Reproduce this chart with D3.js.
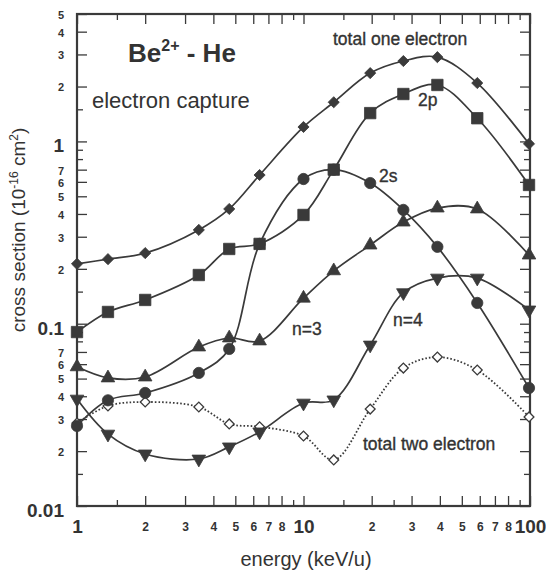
<!DOCTYPE html>
<html>
<head>
<meta charset="utf-8">
<script src="https://cdn.jsdelivr.net/npm/d3@7"></script>
<style>
  body { margin: 0; background: #fff; }
  svg text { font-family: "Liberation Sans", Arial, Helvetica, sans-serif; fill: #333; }
</style>
</head>
<body>
<div id="chart"></div>
<script>
// energies (keV/u), same grid for every curve
var energy = [1, 1.37, 2, 3.45, 4.7, 6.4, 10, 13.6, 19.7, 27.6, 39, 58.5, 99];

// cross sections, 10^-16 cm^2
var totalOne = [0.213, 0.226, 0.244, 0.327, 0.426, 0.654, 1.20, 1.64, 2.37, 2.76, 2.90, 2.09, 0.97];
var twoP     = [0.090, 0.116, 0.135, 0.185, 0.257, 0.274, 0.395, 0.70, 1.43, 1.82, 2.04, 1.34, 0.577];
var twoS     = [0.0275, 0.038, 0.0417, 0.0537, 0.0727, 0.274, 0.622, 0.70, 0.591, 0.421, 0.264, 0.130, 0.0444];
var nThree   = [0.058, 0.0504, 0.051, 0.0745, 0.0835, 0.0804, 0.138, 0.195, 0.270, 0.361, 0.431, 0.426, 0.238];
var nFour    = [0.0386, 0.0248, 0.0193, 0.0181, 0.0211, 0.0255, 0.0367, 0.0382, 0.0764, 0.148, 0.178, 0.178, 0.119];
var totalTwo = [0.0285, 0.0354, 0.0372, 0.0349, 0.0282, 0.0272, 0.0242, 0.0179, 0.0340, 0.0571, 0.0656, 0.0557, 0.0308];

// tick values
var xTicksLabeled = [1, 2, 3, 4, 5, 6, 7, 8, 10, 20, 30, 40, 50, 60, 70, 80, 100];
var xTicksShort   = [1.5, 9, 15, 25, 90];
var yTicksLabeled = [0.01, 0.02, 0.03, 0.04, 0.05, 0.06, 0.07,
                     0.1, 0.2, 0.3, 0.4, 0.5, 0.6, 0.7,
                     1, 2, 3, 4, 5];
var yTicksShort   = [0.015, 0.08, 0.09, 0.15, 0.8, 0.9, 1.5];

var W = 546, H = 576;
var pLeft = 77, pRight = 530, pTop = 14, pBottom = 506;
var ink = "#3a3a3a";

var svg = d3.select("#chart").append("svg")
    .attr("width", W)
    .attr("height", H);

var x = d3.scaleLog().domain([1, 100]).range([pLeft, pRight]);
var y = d3.scaleLog().domain([0.01, 5]).range([pBottom, pTop]);

function isDecade(v) {
    var l = Math.log10(v);
    return Math.abs(l - Math.round(l)) < 1e-9;
}
function shortLabel(v) {
    if (isDecade(v)) return String(+v.toPrecision(3));
    return String(Math.round(v / Math.pow(10, Math.floor(Math.log10(v) + 1e-9))));
}

// axes: labelled ticks (long) and short ticks, all pointing inward
function styleAxis(g, major, minor) {
    g.select(".domain").remove();
    g.selectAll(".tick line").attr("stroke", ink).attr("stroke-width", 1.3);
    g.selectAll(".tick text")
        .attr("fill", ink)
        .style("font-weight", "bold")
        .style("font-size", function(d) { return isDecade(d) ? major : minor; });
}

var gx = svg.append("g").attr("transform", "translate(0," + pBottom + ")")
    .call(d3.axisBottom(x).tickValues(xTicksLabeled).tickSize(-10).tickPadding(14).tickFormat(shortLabel));
styleAxis(gx, "19px", "12px");
gx.selectAll(".tick text").attr("y", function(d) { return isDecade(d) ? 14 : 16; });

svg.append("g").attr("transform", "translate(0," + pBottom + ")")
    .call(d3.axisBottom(x).tickValues(xTicksShort).tickSize(-6).tickFormat(""))
    .call(function(g) { styleAxis(g); });

svg.append("g").attr("transform", "translate(0," + pTop + ")")
    .call(d3.axisTop(x).tickValues(xTicksLabeled).tickSize(-10).tickFormat(""))
    .call(function(g) { styleAxis(g); });
svg.append("g").attr("transform", "translate(0," + pTop + ")")
    .call(d3.axisTop(x).tickValues(xTicksShort).tickSize(-6).tickFormat(""))
    .call(function(g) { styleAxis(g); });

var gy = svg.append("g").attr("transform", "translate(" + pLeft + ",0)")
    .call(d3.axisLeft(y).tickValues(yTicksLabeled).tickSize(-10).tickPadding(13).tickFormat(shortLabel));
styleAxis(gy, "19px", "11px");
gy.selectAll(".tick text").attr("dy", function(d) { return isDecade(d) ? "0.55em" : "0.4em"; });

svg.append("g").attr("transform", "translate(" + pLeft + ",0)")
    .call(d3.axisLeft(y).tickValues(yTicksShort).tickSize(-6).tickFormat(""))
    .call(function(g) { styleAxis(g); });

svg.append("g").attr("transform", "translate(" + pRight + ",0)")
    .call(d3.axisRight(y).tickValues(yTicksLabeled).tickSize(-10).tickFormat(""))
    .call(function(g) { styleAxis(g); });
svg.append("g").attr("transform", "translate(" + pRight + ",0)")
    .call(d3.axisRight(y).tickValues(yTicksShort).tickSize(-6).tickFormat(""))
    .call(function(g) { styleAxis(g); });

// frame
svg.append("rect")
    .attr("x", pLeft).attr("y", pTop)
    .attr("width", pRight - pLeft).attr("height", pBottom - pTop)
    .attr("fill", "none").attr("stroke", ink).attr("stroke-width", 2.2);

// curves
var series = [
    { vals: totalOne, shape: "diamond" },
    { vals: twoP, shape: "square" },
    { vals: twoS, shape: "circle" },
    { vals: nThree, shape: "up" },
    { vals: nFour, shape: "down" },
    { vals: totalTwo, shape: "open", dotted: true }
];

var line = d3.line()
    .x(function(d) { return x(d[0]); })
    .y(function(d) { return y(d[1]); })
    .curve(d3.curveCatmullRom.alpha(0.5));

series.forEach(function(s) {
    var pts = energy.map(function(e, i) { return [e, s.vals[i]]; });
    svg.append("path")
        .attr("d", line(pts))
        .attr("fill", "none")
        .attr("stroke", ink)
        .attr("stroke-width", s.dotted ? 1.8 : 1.7)
        .attr("stroke-dasharray", s.dotted ? "1.6,2" : null);
});

// markers (circles first so squares sit over them)
var shapes = {
    circle:  { type: d3.symbolCircle, size: 100, rot: 0 },
    square:  { type: d3.symbolSquare, size: 130, rot: 0 },
    diamond: { type: d3.symbolSquare, size: 62, rot: 45 },
    up:      { type: d3.symbolTriangle, size: 80, rot: 0 },
    down:    { type: d3.symbolTriangle, size: 80, rot: 180 },
    open:    { type: d3.symbolSquare, size: 48, rot: 45 }
};
var order = ["open", "circle", "square", "diamond", "up", "down"];
order.forEach(function(name) {
    var s = series.filter(function(d) { return d.shape === name; })[0];
    var sh = shapes[name];
    svg.append("g").selectAll("path")
        .data(energy.map(function(e, i) { return [e, s.vals[i]]; }))
        .join("path")
        .attr("d", d3.symbol().type(sh.type).size(sh.size))
        .attr("transform", function(d) {
            return "translate(" + x(d[0]) + "," + y(d[1]) + ") rotate(" + sh.rot + ")";
        })
        .attr("fill", name === "open" ? "#fff" : ink)
        .attr("stroke", ink)
        .attr("stroke-width", name === "open" ? 1.3 : 0.8);
});

// titles and curve labels
var title = svg.append("text").attr("x", 128).attr("y", 62)
    .style("font-size", "26px").style("font-weight", "bold");
title.append("tspan").text("Be");
title.append("tspan").attr("dy", -11).style("font-size", "16px").text("2+");
title.append("tspan").attr("dy", 11).text(" - He");

svg.append("text").attr("x", 92).attr("y", 108)
    .style("font-size", "22px").text("electron capture");

var labels = [
    { t: "total one electron", x: 333, y: 45 },
    { t: "2p", x: 418, y: 106 },
    { t: "2s", x: 379, y: 182 },
    { t: "n=3", x: 292, y: 335 },
    { t: "n=4", x: 393, y: 326 },
    { t: "total two electron", x: 363, y: 450 }
];
svg.selectAll(".lab").data(labels).join("text")
    .attr("class", "lab")
    .attr("x", function(d) { return d.x; })
    .attr("y", function(d) { return d.y; })
    .style("font-size", "17.5px")
    .style("stroke", "#333").style("stroke-width", 0.35)
    .text(function(d) { return d.t; });

// axis titles
svg.append("text").attr("x", 306).attr("y", 566)
    .attr("text-anchor", "middle")
    .style("font-size", "20px").text("energy (keV/u)");

var yl = svg.append("text")
    .attr("transform", "translate(25,230) rotate(-90)")
    .attr("text-anchor", "middle")
    .style("font-size", "19px");
yl.append("tspan").text("cross section (10");
yl.append("tspan").attr("dy", -7).style("font-size", "12px").text("-16");
yl.append("tspan").attr("dy", 7).text(" cm");
yl.append("tspan").attr("dy", -7).style("font-size", "12px").text("2");
yl.append("tspan").attr("dy", 7).text(")");
</script>
</body>
</html>
